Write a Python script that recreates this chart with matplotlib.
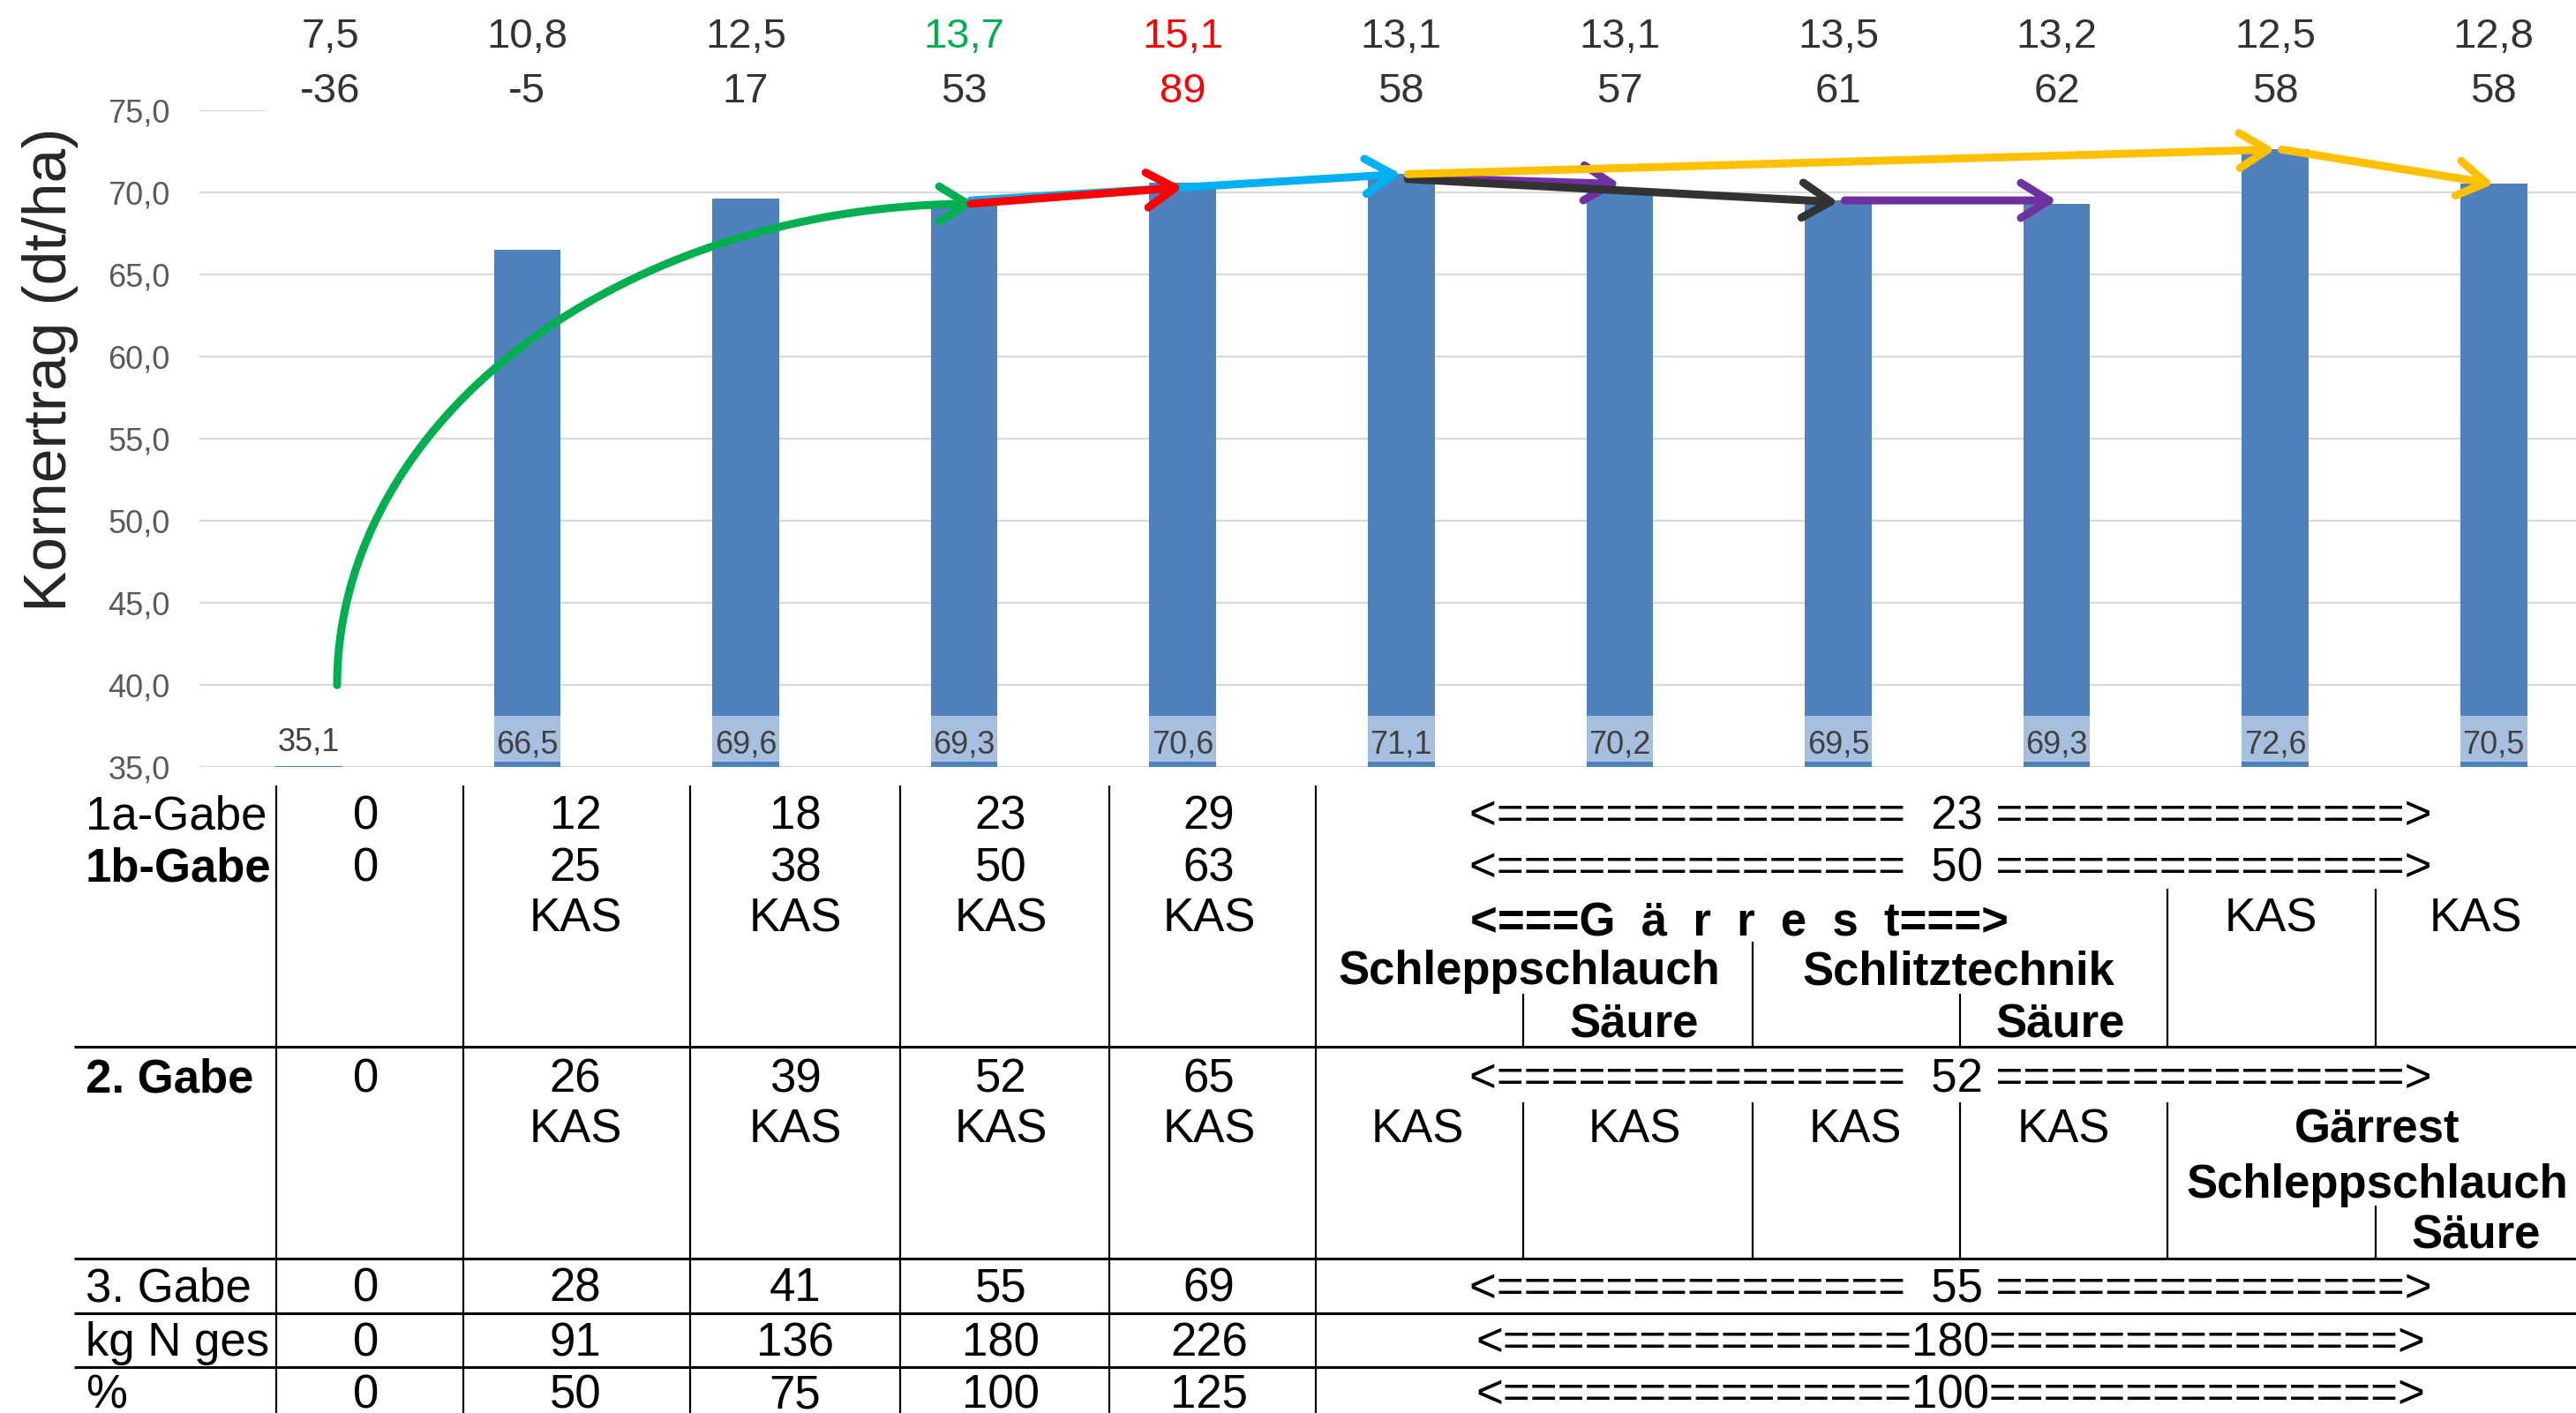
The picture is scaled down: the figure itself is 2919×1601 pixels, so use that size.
import matplotlib
matplotlib.use("Agg")
import matplotlib.pyplot as plt
from matplotlib.patches import Rectangle, FancyArrowPatch
from matplotlib.path import Path
import numpy as np

plt.rcParams['font.family'] = ['Liberation Sans', 'DejaVu Sans']

# ---- data -------------------------------------------------------------
yields = [35.1, 66.5, 69.6, 69.3, 70.6, 71.1, 70.2, 69.5, 69.3, 72.6, 70.5]
protein = ['7,5', '10,8', '12,5', '13,7', '15,1', '13,1', '13,1', '13,5', '13,2', '12,5', '12,8']
n_balance = ['-36', '-5', '17', '53', '89', '58', '57', '61', '62', '58', '58']
protein_colors = ['#333333'] * 3 + ['#00B050', '#FF0000'] + ['#333333'] * 6
balance_colors = ['#333333'] * 4 + ['#FF0000'] + ['#333333'] * 6
y_ticks = [35, 40, 45, 50, 55, 60, 65, 70, 75]

gabe_1a = ['0', '12', '18', '23', '29']
gabe_1b = ['0', '25', '38', '50', '63']
gabe_2 = ['0', '26', '39', '52', '65']
gabe_3 = ['0', '28', '41', '55', '69']
n_total = ['0', '91', '136', '180', '226']
n_percent = ['0', '50', '75', '100', '125']
shared_1a, shared_1b, shared_2, shared_3, shared_n, shared_pct = '23', '50', '52', '55', '180', '100'

# trend arrows: (from bar, to bar, colour, y-shift at start, y-shift at end)
trend_arrows = [
    (3, 5, '#00B0F0', 0.2, 0.0),
    (3, 4, '#FF0000', 0.0, -0.3),
    (5, 6, '#7030A0', -0.2, 0.3),
    (5, 7, '#333333', -0.3, -0.1),
    (7, 8, '#7030A0', 0.0, 0.2),
    (5, 9, '#FFC000', 0.0, 0.0),
    (9, 10, '#FFC000', 0.0, 0.0),
]

def de(v):
    return f"{v:.1f}".replace('.', ',')

# ---- figure / chart ---------------------------------------------------
W, H = 2919, 1601
fig = plt.figure(figsize=(W / 100, H / 100), dpi=100)
y_top_px, y_bot_px = 124.7, 869.4
ax = fig.add_axes([226 / W, 1 - y_bot_px / H, 2723.6 / W, (y_bot_px - y_top_px) / H])
ax.set_xlim(-0.5, 10.5)
ax.set_ylim(35, 75)
ax.set_yticks(y_ticks)
ax.set_yticklabels([de(t) for t in y_ticks])
ax.tick_params(axis='y', length=0, pad=24, labelsize=26, labelcolor='#595959')
ax.set_xticks([])
for s in ax.spines.values():
    s.set_visible(False)
ax.grid(axis='y', color='#D9D9D9', linewidth=1.6, zorder=0)
ax.set_axisbelow(True)

x = np.arange(len(yields))
bw = 0.305
ax.bar(x, yields, width=bw, color='#4F81BD', zorder=2)
for i, v in enumerate(yields):
    if v > 38.5:
        ax.add_patch(Rectangle((i - bw / 2, 35.36), bw, 38.15 - 35.36,
                               facecolor='#A7BFDE', edgecolor='none', zorder=3))
        ax.text(i, 35.84, de(v), ha='center', va='baseline', fontsize=26,
                color='#404040', zorder=4)
    else:
        ax.text(i, 36.0, de(v), ha='center', va='baseline', fontsize=26,
                color='#404040', zorder=4)

# white header box over the top gridline
ax.add_patch(Rectangle((-0.19, 74.3), 11, 10, facecolor='white', edgecolor='none',
                       clip_on=False, zorder=3))
for i in range(len(yields)):
    dx = 0.1 if i == 0 else 0.0
    ax.text(i + dx, 78.79, protein[i], ha='center', va='baseline', fontsize=34,
            color=protein_colors[i], clip_on=False, zorder=4)
    ax.text(i + dx, 75.46, n_balance[i], ha='center', va='baseline', fontsize=34,
            color=balance_colors[i], clip_on=False, zorder=4)

ARROW = '->,head_length=1.05,head_width=0.65'
LW = 6.5

# green response curve (quarter ellipse) from the control to bar 3
x0, y0 = 0.13, 40.0
x1, y1 = 3.05, yields[3]
theta = np.linspace(np.pi, np.pi / 2, 80)
verts = np.column_stack([x1 + (x1 - x0) * np.cos(theta), y0 + (y1 - y0) * np.sin(theta)])
curve = FancyArrowPatch(path=Path(verts), arrowstyle=ARROW,
                        mutation_scale=22, color='#00B050', lw=LW, zorder=5,
                        transform=ax.transData, capstyle='round')
ax.add_patch(curve)

for a, b, col, da, db in trend_arrows:
    arr = FancyArrowPatch((a + 0.03, yields[a] + da), (b + 0.0, yields[b] + db),
                          arrowstyle=ARROW, mutation_scale=22, color=col, lw=LW,
                          zorder=5, shrinkA=0, shrinkB=0, capstyle='round')
    ax.add_patch(arr)

fig.text(57 / W, 1 - 419 / H, 'Kornertrag (dt/ha)', rotation=90, ha='center',
         va='center', fontsize=50, color='#262626')

# ---- table below the chart ---------------------------------------------
tab = fig.add_axes([0, 0, 1, 1], facecolor='none')
tab.set_xlim(0, W)
tab.set_ylim(H, 0)
tab.axis('off')

for yy in [1186, 1426, 1487.5, 1549]:
    tab.plot([84, W], [yy, yy], color='black', lw=2.2, solid_capstyle='butt')
for xx in [313, 525, 782, 1020, 1257, 1491]:
    tab.plot([xx, xx], [890, H], color='black', lw=1.6, solid_capstyle='butt')
sub_lines = [
    (2455.5, 1007, 1186), (2692, 1007, 1186), (1986, 1067, 1186),
    (1726, 1126, 1186), (2221, 1126, 1186),
    (1726, 1249, 1426), (1986, 1249, 1426), (2221, 1249, 1426), (2455.5, 1249, 1426),
    (2692, 1366, 1426),
]
for xx, ya, yb in sub_lines:
    tab.plot([xx, xx], [ya, yb], color='black', lw=1.6, solid_capstyle='butt')

FS = 38
CAP = 19  # half the cap height in pixels at this size


def cell(xc, yc, s, bold=False, ha='center'):
    tab.text(xc, yc + CAP, s, ha=ha, va='baseline', fontsize=FS,
             fontweight='bold' if bold else 'normal', color='black')


rows = [('1a-Gabe', 920, False), ('1b-Gabe', 979, True), ('2. Gabe', 1218, True),
        ('3. Gabe', 1455, False), ('kg N ges', 1517, False), ('%', 1576, False)]
for s, yy, b in rows:
    cell(97, yy, s, bold=b, ha='left')

cols_x = [415, 652, 901, 1134, 1370]
for i, xc in enumerate(cols_x):
    cell(xc, 920, gabe_1a[i])
    cell(xc, 979, gabe_1b[i])
    cell(xc, 1218, gabe_2[i])
    cell(xc, 1455, gabe_3[i])
    cell(xc, 1517, n_total[i])
    cell(xc, 1576, n_percent[i])
    if i > 0:
        cell(xc, 1036.5, 'KAS')
        cell(xc, 1275, 'KAS')


def span(v):
    if len(v) < 3:
        return '<' + '=' * 15 + '  ' + v + ' ' + '=' * 15 + '>'
    return '<' + '=' * 15 + v + '=' * 15 + '>'


for v, yy in [(shared_1a, 920), (shared_1b, 979), (shared_2, 1218),
              (shared_3, 1455), (shared_n, 1517), (shared_pct, 1576)]:
    cell(2210, yy, span(v))

cell(1971, 1041, '<===G  ä  r  r  e  s  t===>', bold=True)
cell(2573, 1036.5, 'KAS')
cell(2805.5, 1036.5, 'KAS')
cell(1733, 1096, 'Schleppschlauch', bold=True)
cell(2219, 1096, 'Schlitztechnik', bold=True)
cell(1852, 1156, 'Säure', bold=True)
cell(2334.5, 1156, 'Säure', bold=True)
for xc in [1606.6, 1852, 2102, 2338]:
    cell(xc, 1275, 'KAS')
cell(2694, 1275, 'Gärrest', bold=True)
cell(2694, 1337.5, 'Schleppschlauch', bold=True)
cell(2805.5, 1395, 'Säure', bold=True)

fig.savefig('out.png', dpi=100, facecolor='white')
